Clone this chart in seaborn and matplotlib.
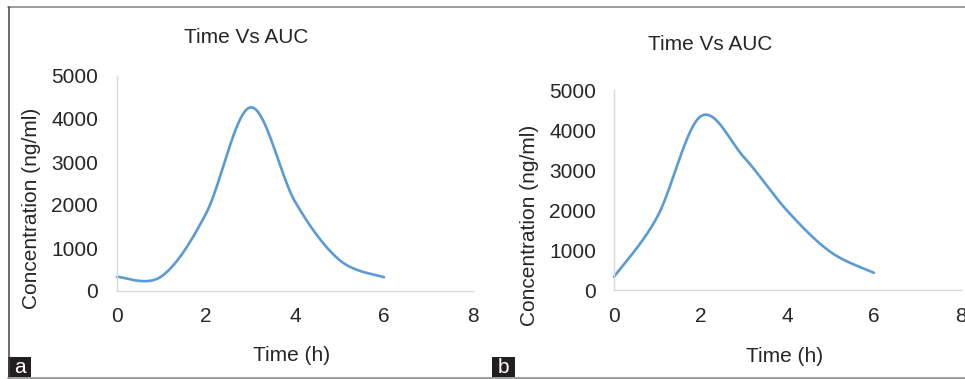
import numpy as np
import pandas as pd
import matplotlib
matplotlib.use("Agg")
import matplotlib.pyplot as plt
from matplotlib.patches import Rectangle
from matplotlib.lines import Line2D
import seaborn as sns

# ---- data ----
time_a = [0, 1, 2, 3, 4, 5, 6]
conc_a = [330, 340, 1800, 4270, 2080, 720, 320]

time_b = [0, 1, 2, 3, 4, 5, 6]
conc_b = [330, 1830, 4340, 3320, 1980, 950, 430]

x_ticks = [0, 2, 4, 6, 8]
y_ticks = [0, 1000, 2000, 3000, 4000, 5000]
title_text = "Time Vs AUC"
x_label = "Time (h)"
y_label = "Concentration (ng/ml)"
panel_labels = ["a", "b"]

sns.set_theme(style="white")
plt.rcParams["font.family"] = ["Liberation Sans", "DejaVu Sans"]

LINE = "#5B9BD5"
TXT = "#262626"
SPINE = "#d9d9d9"


def smooth(xs, ys, n=40):
    """Excel-style smoothed line (cubic Bezier through the points)."""
    p = np.column_stack([xs, ys]).astype(float)
    ext = np.vstack([p[0], p, p[-1]])
    out = []
    t = np.linspace(0, 1, n)[:, None]
    for i in range(1, len(ext) - 2):
        p0, p3 = ext[i], ext[i + 1]
        c1 = p0 + (ext[i + 1] - ext[i - 1]) / 6.0
        c2 = p3 - (ext[i + 2] - ext[i]) / 6.0
        seg = ((1 - t) ** 3) * p0 + 3 * ((1 - t) ** 2) * t * c1 + 3 * (1 - t) * t ** 2 * c2 + t ** 3 * p3
        out.append(seg if i == 1 else seg[1:])
    s = np.vstack(out)
    return s[:, 0], s[:, 1]


W, H = 965, 379
fig = plt.figure(figsize=(W / 100, H / 100), dpi=100)


def px_axes(l, r, b, t):
    return fig.add_axes([l / W, 1 - b / H, (r - l) / W, (b - t) / H])


panels = [
    dict(ax=px_axes(117, 473, 291, 76), t=time_a, c=conc_a,
         title=(0.362, 1.18), xl=(0.4916, -0.302), yl=(-0.2388, 0.386),
         xpad=11.5, ypad=13.7),
    dict(ax=px_axes(614, 960.5, 290, 90), t=time_b, c=conc_b,
         title=(0.277, 1.225), xl=(0.4935, -0.33), yl=(-0.2453, 0.325),
         xpad=12.0, ypad=13.0),
]

for p in panels:
    ax = p["ax"]
    sx, sy = smooth(p["t"], p["c"])
    df = pd.DataFrame({"Time": sx, "Conc": sy})
    sns.lineplot(data=df, x="Time", y="Conc", sort=False, estimator=None,
                 color=LINE, linewidth=1.9, ax=ax, clip_on=False)
    ax.set_xlim(0, 8)
    ax.set_ylim(0, 5000)
    ax.set_xticks(x_ticks)
    ax.set_yticks(y_ticks)
    ax.set_xticklabels([str(v) for v in x_ticks])
    ax.set_yticklabels([str(v) for v in y_ticks])
    ax.tick_params(axis="x", length=0, pad=p["xpad"], labelsize=15, labelcolor=TXT)
    ax.tick_params(axis="y", length=0, pad=p["ypad"], labelsize=15, labelcolor=TXT)
    for side in ["top", "right"]:
        ax.spines[side].set_visible(False)
    for side in ["left", "bottom"]:
        ax.spines[side].set_color(SPINE)
        ax.spines[side].set_linewidth(1.0)
    ax.grid(False)
    ax.set_facecolor("none")
    ax.set_xlabel(x_label, fontsize=15, color=TXT)
    ax.set_ylabel(y_label, fontsize=15, color=TXT)
    ax.xaxis.label.set_va("center")
    ax.yaxis.label.set_va("center")
    ax.xaxis.set_label_coords(*p["xl"])
    ax.yaxis.set_label_coords(*p["yl"])
    ax.text(p["title"][0], p["title"][1], title_text, transform=ax.transAxes,
            ha="center", va="center", fontsize=15, color=TXT)

# frame lines
fig.add_artist(Line2D([8 / W, 1], [1 - 6.5 / H] * 2, color="#8c8c8c", lw=1.2, transform=fig.transFigure))
fig.add_artist(Line2D([8.5 / W] * 2, [1 - 377.5 / H, 1 - 6.5 / H], color="#444444", lw=1.1, transform=fig.transFigure))
fig.add_artist(Line2D([8 / W, 1], [1 - 377.5 / H] * 2, color="#8c8c8c", lw=1.2, transform=fig.transFigure))

# panel label boxes
for lab, x0 in zip(panel_labels, [8, 492]):
    fig.add_artist(Rectangle((x0 / W, 1 - 377 / H), 23 / W, 20 / H, transform=fig.transFigure,
                             facecolor="#231f20", edgecolor="none"))
    fig.text((x0 + 11.5) / W, 1 - 367.5 / H, lab, color="white", fontsize=15,
             ha="center", va="center")

fig.savefig("out.png", dpi=100)
